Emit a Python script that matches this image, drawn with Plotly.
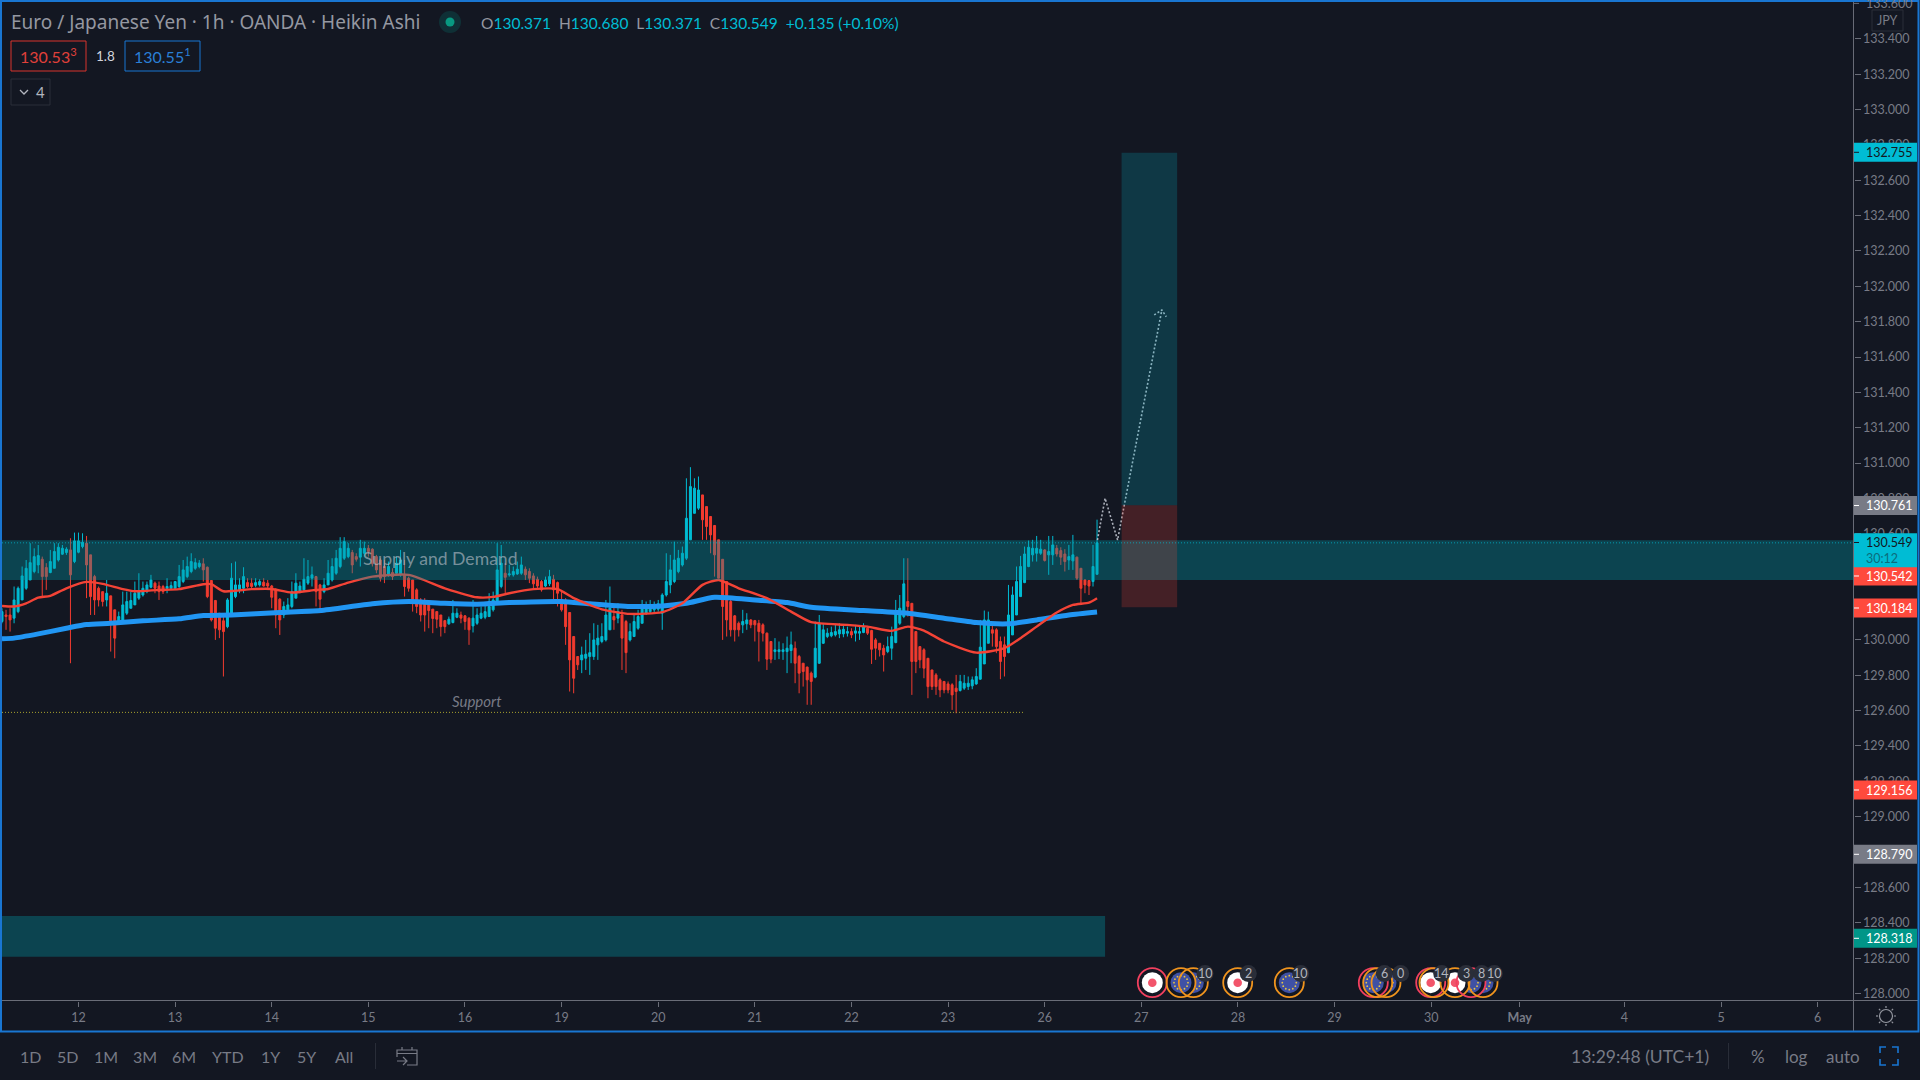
import plotly.graph_objects as go
import numpy as np

# ---------- chart values ----------
body_top = [
130.160,130.141,130.141,130.226,130.292,130.362,130.405,130.437,130.471,130.477,
130.456,130.409,130.443,130.500,130.524,130.518,130.513,130.509,130.560,130.560,
130.552,130.547,130.481,130.358,130.292,130.273,130.264,130.249,130.170,130.132,
130.198,130.217,130.223,130.264,130.273,130.292,130.311,130.339,130.321,130.305,
130.302,130.302,130.307,130.330,130.358,130.396,130.415,130.443,130.437,130.434,
130.430,130.411,130.336,130.223,130.151,130.108,130.226,130.349,130.311,130.311,
130.358,130.324,130.321,130.324,130.330,130.326,130.321,130.305,130.283,130.230,
130.189,130.198,130.273,130.321,130.305,130.343,130.358,130.368,130.358,130.311,
130.311,130.377,130.415,130.462,130.518,130.556,130.518,130.494,130.471,130.518,
130.518,130.518,130.513,130.471,130.452,130.415,130.415,130.381,130.434,130.452,
130.368,130.349,130.339,130.283,130.226,130.217,130.217,130.174,130.160,130.141,
130.109,130.117,130.151,130.151,130.141,130.136,130.123,130.123,130.141,130.151,
130.160,130.189,130.226,130.396,130.434,130.377,130.373,130.387,130.400,130.424,
130.400,130.387,130.362,130.343,130.330,130.339,130.358,130.343,130.324,130.226,
130.226,130.155,130.019,129.906,129.915,129.919,129.928,130.000,130.010,130.019,
130.141,130.179,130.132,130.160,130.141,130.104,130.047,130.104,130.132,130.198,
130.198,130.198,130.198,130.204,130.254,130.330,130.396,130.452,130.462,130.490,
130.688,130.867,130.858,130.848,130.820,130.754,130.698,130.647,130.566,130.456,
130.330,130.217,130.136,130.094,130.104,130.113,130.113,130.109,130.094,130.085,
130.038,129.991,129.944,129.944,129.944,129.953,129.972,129.953,129.906,129.868,
129.846,129.812,129.953,130.094,130.057,130.038,130.042,130.047,130.057,130.060,
130.047,130.047,130.051,130.047,130.075,130.066,130.053,130.000,129.981,129.953,
129.962,130.019,130.160,130.179,130.317,130.217,130.207,130.047,129.962,129.944,
129.896,129.830,129.802,129.774,129.765,129.751,129.746,129.727,129.765,129.755,
129.755,129.774,129.793,129.959,130.113,130.113,130.057,130.057,129.991,129.972,
130.141,130.254,130.330,130.415,130.486,130.524,130.518,130.518,130.513,130.509,
130.500,130.537,130.518,130.505,130.486,130.471,130.481,130.468,130.405,130.339,
130.336,130.415,130.549]

body_bottom = [
130.104,130.132,130.113,130.123,130.160,130.226,130.292,130.339,130.387,130.424,
130.358,130.358,130.381,130.405,130.452,130.485,130.494,130.368,130.443,130.496,
130.528,130.424,130.245,130.226,130.226,130.217,130.226,130.094,130.010,130.104,
130.104,130.151,130.179,130.198,130.236,130.254,130.273,130.298,130.292,130.273,
130.273,130.292,130.292,130.292,130.302,130.330,130.358,130.387,130.405,130.415,
130.396,130.245,130.113,130.066,130.057,130.047,130.075,130.151,130.245,130.283,
130.292,130.302,130.302,130.309,130.311,130.305,130.305,130.241,130.141,130.113,
130.141,130.170,130.189,130.236,130.273,130.283,130.321,130.349,130.273,130.230,
130.273,130.311,130.339,130.377,130.415,130.462,130.471,130.424,130.456,130.468,
130.490,130.500,130.430,130.396,130.349,130.358,130.368,130.358,130.377,130.368,
130.302,130.292,130.207,130.189,130.141,130.141,130.166,130.121,130.117,130.075,
130.075,130.091,130.098,130.128,130.123,130.104,130.057,130.079,130.094,130.123,
130.128,130.132,130.170,130.217,130.302,130.354,130.368,130.368,130.373,130.377,
130.368,130.349,130.317,130.305,130.283,130.305,130.317,130.283,130.264,130.170,
130.075,129.887,129.783,129.859,129.887,129.896,129.906,129.906,129.972,129.991,
130.000,130.057,130.113,130.123,130.010,129.928,130.000,130.019,130.066,130.094,
130.151,130.160,130.170,130.174,130.151,130.254,130.311,130.330,130.387,130.424,
130.462,130.566,130.716,130.745,130.679,130.641,130.594,130.481,130.349,130.189,
130.113,130.057,130.057,130.057,130.085,130.091,130.085,130.085,130.047,130.038,
129.891,129.891,129.934,129.934,129.934,129.934,129.940,129.868,129.812,129.821,
129.774,129.765,129.789,129.868,129.981,130.019,130.023,130.028,130.034,130.034,
130.038,130.028,130.038,130.038,130.042,130.038,129.947,129.953,129.944,129.915,
129.934,129.953,129.985,130.094,130.132,130.189,129.878,129.878,129.887,129.840,
129.736,129.736,129.736,129.717,129.717,129.717,129.689,129.708,129.714,129.727,
129.736,129.740,129.751,129.778,129.864,129.981,130.038,129.962,129.878,129.906,
129.928,130.028,130.141,130.245,130.324,130.415,130.481,130.490,130.490,130.449,
130.481,130.481,130.486,130.468,130.443,130.452,130.447,130.349,130.292,130.311,
130.305,130.330,130.371]

wick_high = [
130.179,130.170,130.179,130.302,130.302,130.415,130.452,130.547,130.518,130.537,
130.471,130.434,130.509,130.547,130.547,130.537,130.524,130.575,130.607,130.607,
130.603,130.588,130.481,130.368,130.302,130.273,130.339,130.249,130.170,130.160,
130.273,130.273,130.273,130.330,130.377,130.330,130.330,130.368,130.330,130.330,
130.311,130.349,130.330,130.330,130.424,130.452,130.471,130.490,130.462,130.452,
130.462,130.415,130.336,130.226,130.151,130.151,130.236,130.434,130.443,130.349,
130.411,130.349,130.349,130.349,130.343,130.349,130.339,130.311,130.292,130.236,
130.217,130.236,130.330,130.377,130.330,130.462,130.452,130.415,130.362,130.317,
130.349,130.452,130.462,130.509,130.581,130.581,130.547,130.509,130.490,130.566,
130.556,130.537,130.518,130.481,130.462,130.452,130.443,130.405,130.471,130.509,
130.452,130.358,130.339,130.292,130.236,130.236,130.217,130.174,130.160,130.141,
130.113,130.132,130.226,130.179,130.160,130.141,130.128,130.226,130.179,130.189,
130.207,130.264,130.273,130.547,130.537,130.434,130.424,130.415,130.443,130.471,
130.415,130.405,130.377,130.358,130.339,130.358,130.396,130.368,130.330,130.283,
130.236,130.155,130.019,129.906,129.962,130.000,130.038,130.094,130.085,130.094,
130.226,130.302,130.189,130.207,130.170,130.113,130.094,130.141,130.170,130.226,
130.217,130.226,130.217,130.226,130.264,130.490,130.481,130.556,130.509,130.528,
130.914,130.977,130.914,130.924,130.820,130.754,130.698,130.650,130.566,130.456,
130.330,130.226,130.141,130.104,130.170,130.151,130.117,130.113,130.113,130.094,
130.042,129.991,130.010,129.991,129.981,130.019,130.047,129.991,129.915,129.868,
129.849,129.821,130.104,130.141,130.094,130.066,130.075,130.085,130.094,130.085,
130.075,130.066,130.085,130.075,130.094,130.079,130.057,130.010,129.981,129.972,
130.019,130.075,130.226,130.254,130.462,130.462,130.207,130.047,129.962,129.953,
129.896,129.830,129.812,129.783,129.765,129.765,129.755,129.802,129.802,129.802,
129.793,129.793,129.840,130.113,130.166,130.160,130.094,130.066,130.019,130.019,
130.311,130.302,130.415,130.475,130.528,130.562,130.566,130.588,130.566,130.513,
130.588,130.588,130.537,130.524,130.513,130.537,130.594,130.471,130.405,130.343,
130.339,130.537,130.680]

wick_low = [
130.094,130.057,130.047,130.094,130.151,130.226,130.283,130.339,130.377,130.377,
130.245,130.283,130.377,130.405,130.443,130.481,130.481,129.868,130.434,130.490,
130.518,130.236,130.141,130.141,130.189,130.189,130.189,129.934,129.896,130.094,
130.094,130.141,130.179,130.198,130.226,130.245,130.264,130.292,130.264,130.226,
130.260,130.264,130.283,130.283,130.292,130.321,130.349,130.377,130.396,130.405,
130.330,130.236,130.104,130.000,130.010,129.793,130.066,130.141,130.236,130.264,
130.264,130.292,130.292,130.298,130.302,130.302,130.292,130.179,130.066,130.028,
130.123,130.160,130.179,130.236,130.264,130.273,130.311,130.302,130.189,130.151,
130.264,130.311,130.330,130.368,130.405,130.452,130.462,130.377,130.443,130.415,
130.471,130.471,130.415,130.377,130.330,130.321,130.358,130.339,130.368,130.358,
130.245,130.273,130.160,130.151,130.104,130.047,130.066,130.038,130.066,130.019,
130.038,130.085,130.094,130.123,130.094,130.057,129.972,130.042,130.085,130.117,
130.117,130.132,130.160,130.207,130.292,130.264,130.358,130.358,130.368,130.368,
130.339,130.321,130.292,130.292,130.273,130.298,130.305,130.207,130.189,130.160,
129.972,129.708,129.698,129.830,129.812,129.830,129.802,129.887,129.887,129.981,
129.991,130.057,130.057,130.094,129.830,129.812,129.991,130.019,130.057,130.094,
130.141,130.151,130.151,130.160,130.057,130.245,130.264,130.321,130.377,130.415,
130.452,130.566,130.716,130.735,130.566,130.566,130.490,130.358,130.349,130.000,
130.019,130.019,129.991,130.019,130.038,130.057,130.066,129.991,129.878,129.991,
129.830,129.868,129.887,129.891,129.887,129.812,129.868,129.755,129.698,129.736,
129.633,129.633,129.783,129.864,129.977,130.010,130.015,130.019,130.010,130.015,
130.019,130.010,129.991,130.000,130.038,130.028,129.864,129.887,129.906,129.821,
129.925,129.887,129.981,130.085,130.123,130.132,129.689,129.812,129.840,129.783,
129.670,129.717,129.689,129.676,129.698,129.698,129.604,129.585,129.708,129.717,
129.717,129.721,129.746,129.774,129.864,129.981,129.962,129.925,129.778,129.793,
129.925,130.028,130.141,130.245,130.321,130.411,130.443,130.443,130.481,130.443,
130.368,130.424,130.471,130.424,130.387,130.396,130.396,130.339,130.207,130.264,
130.254,130.302,130.371]

direction = ("U DD UUUUUUU DD UUUUU D UUU DDDDD U DD UUUUUUUUU DDD UUUUUUUUU DDDDDD UUUUU DD UU "
             "DDDDD UUUUUUUU DD UUUUUUU DD UU DDDDD U D UU DDDDDDDDDDD UUU DDD UUUUUUUU D UUUU "
             "DDDDD UU DDDDDDD UUUUUUUU D U DD UUUUUUUUUUUUUUUUUU DDDDDDDDDD UU DDDDDD UUUUU "
             "DDDDD UUUUUUUUU D UUU DDDDD UUUUU DDDDDDDDDDDDD UUUUUUUU DDDD UUUUUUUUU D UU DDD "
             "UU DDDD UU").replace(" ", "")

ma_red_bar = [0,3,6,9,12,16,21,25,30,33,39,44,50,52,55,62,67,72,78,81,86,92,101,110,118,122,126,132,138,
              142,149,156,164,169,174,178,183,190,196,201,210,215,221,225,229,234,242,249,253,257,262,266,270,272]
ma_red = [130.192,130.189,130.207,130.239,130.249,130.292,130.328,130.317,130.287,130.275,130.283,130.287,
          130.315,130.315,130.275,130.287,130.288,130.268,130.283,130.288,130.324,130.358,130.368,130.292,
          130.241,130.243,130.264,130.287,130.287,130.236,130.173,130.147,130.157,130.207,130.311,130.339,
          130.292,130.236,130.160,130.100,130.085,130.075,130.051,130.075,130.053,129.991,129.928,129.953,
          130.010,130.075,130.155,130.198,130.211,130.236]
ma_blue_bar = [0,3,9,16,21,27,35,44,50,57,69,79,92,101,110,118,126,139,146,156,164,170,177,187,195,201,214,
               225,234,242,250,257,265,272]
ma_blue = [130.006,130.010,130.034,130.066,130.087,130.094,130.108,130.119,130.138,130.141,130.155,130.166,
           130.204,130.217,130.207,130.202,130.211,130.217,130.204,130.189,130.192,130.207,130.241,130.226,
           130.211,130.185,130.166,130.151,130.123,130.098,130.091,130.113,130.141,130.158]

date_tick_bars = [19,43,67,91,115,139,163,187,211,235,259,283,307,331,355,377,403,427,451]
date_tick_labels = ["12","13","14","15","16","19","20","21","22","23","26","27","28","29","30","<b>May</b>","4","5","6"]
price_ticks = [128.0,128.2,128.4,128.6,128.8,129.0,129.2,129.4,129.6,129.8,130.0,130.2,130.4,130.6,130.8,
               131.0,131.2,131.4,131.6,131.8,132.0,132.2,132.4,132.6,132.8,133.0,133.2,133.4]
top_price_tick = "133.600"

zone_prices = [130.339, 130.563]
last_price = 130.549
lower_zone_prices = [128.208, 128.438]
lower_zone_end_bar = 274.0
profit_prices = [130.761, 132.755]
stop_prices = [130.184, 130.761]
box_bars = [278.1, 291.9]
support_price = 129.590
support_end_bar = 254.0
path_bars = [272.1, 274.0, 277.1, 288.1]
path_prices = [130.565, 130.801, 130.565, 131.866]
arrow_bars = [286.2, 288.1, 289.2]
arrow_prices = [131.838, 131.866, 131.828]

label_text = ["132.755","130.761","130.542","130.184","129.156","128.790","128.318"]
label_fill = ["#00BCD4","#787B86","#FF4A3D","#FF4A3D","#FF4A3D","#787B86","#009688"]
label_ink = ["#131722","#FFFFFF","#FFFFFF","#FFFFFF","#FFFFFF","#FFFFFF","#FFFFFF"]
label_center_y = [152.3,505.5,576,608,790,854.3,938.3]

range_buttons = ["1D","5D","1M","3M","6M","YTD","1Y","5Y","All"]
range_button_x = [30.7,67.7,106,145,184,228,270,306.7,344]

# ---------- derived ----------
top = np.array(body_top); bot = np.array(body_bottom)
up = np.array([c == "U" for c in direction])
n = min(len(top), len(up))
top, bot, up = top[:n], bot[:n], up[:n]
open_p = np.where(up, bot, top)
close_p = np.where(up, top, bot)
bars = np.arange(n)

BG = "#131722"; GREY = "#787B86"; CYAN = "#00BCD4"; RED = "#F23B2F"; BLUE = "#1976D2"
FONT = "Lato, 'Noto Sans', sans-serif"
FONT2 = "'Noto Sans', Lato, sans-serif"

X = lambda x: x / 1920
Y = lambda y: 1 - y / 1080
P = lambda x, y: f"{X(x):.5f},{Y(y):.5f}"

shapes = []; ann = []

def rect(x0, y0, x1, y1, fill="rgba(0,0,0,0)", line=None, w=1):
    shapes.append(dict(type="rect", xref="paper", yref="paper", x0=X(x0), x1=X(x1), y0=Y(y0), y1=Y(y1),
                       fillcolor=fill, line=dict(color=line or "rgba(0,0,0,0)", width=w if line else 0)))

def circ(cx, cy, r, fill="rgba(0,0,0,0)", line=None, w=1):
    shapes.append(dict(type="circle", xref="paper", yref="paper", x0=X(cx-r), x1=X(cx+r), y0=Y(cy+r), y1=Y(cy-r),
                       fillcolor=fill, line=dict(color=line or "rgba(0,0,0,0)", width=w if line else 0)))

def poly(pts_list, color, w=1.5):
    d = ""
    for pts in pts_list:
        d += "M" + " L".join(P(*p) for p in pts) + " "
    shapes.append(dict(type="path", xref="paper", yref="paper", path=d.strip(), line=dict(color=color, width=w)))

def txt(x, y, s, size=12, color=GREY, anchor="left", font=FONT):
    ann.append(dict(xref="paper", yref="paper", x=X(x), y=Y(y), text=s, showarrow=False, xanchor=anchor,
                    yanchor="middle", borderpad=0, borderwidth=0,
                    font=dict(size=size, color=color, family=font)))

# zones and position boxes (all above the candles)
shapes.append(dict(type="rect", xref="x", yref="y", x0=0, x1=460, y0=zone_prices[0], y1=zone_prices[1],
                   fillcolor="rgba(0,151,167,0.35)", line=dict(width=0)))
shapes.append(dict(type="rect", xref="x", yref="y", x0=0, x1=lower_zone_end_bar, y0=lower_zone_prices[0],
                   y1=lower_zone_prices[1], fillcolor="rgba(0,151,167,0.35)", line=dict(width=0)))
shapes.append(dict(type="rect", xref="x", yref="y", x0=box_bars[0], x1=box_bars[1], y0=profit_prices[0],
                   y1=profit_prices[1], fillcolor="rgba(0,188,212,0.2)", line=dict(width=0)))
shapes.append(dict(type="rect", xref="x", yref="y", x0=box_bars[0], x1=box_bars[1], y0=stop_prices[0],
                   y1=stop_prices[1], fillcolor="rgba(244,67,54,0.22)", line=dict(width=0)))
shapes.append(dict(type="line", xref="x", yref="y", x0=0, x1=460, y0=last_price, y1=last_price,
                   line=dict(color="rgba(0,188,212,0.7)", width=1, dash="1px,2px")))
shapes.append(dict(type="line", xref="x", yref="y", x0=0, x1=support_end_bar, y0=support_price, y1=support_price,
                   line=dict(color="#A8A22E", width=1, dash="1px,2px")))

# chart frame
poly([[(1853.5, 0), (1853.5, 1032)]], "#6A6D78", 1)
poly([[(0, 1000.5), (1918, 1000.5)]], "#6A6D78", 1)

# event icons: earlier icons sit on top of later ones, every ring stays visible
ORANGE = "#F0941E"; PINK = "#F2405F"
icons = [("jp",1152.3,PINK),("eu",1181,ORANGE),("eu",1193.3,ORANGE),("jp",1237.7,ORANGE),("eu",1289.3,ORANGE),
         ("eu",1373.3,PINK),("eu",1377.7,ORANGE),("eu",1386,ORANGE),("jp",1430.7,PINK),("jp",1434,ORANGE),
         ("jp",1455,ORANGE),("eu",1471,PINK),("eu",1483,ORANGE)]
badges = [(1205,"10"),(1248.3,"2"),(1300.7,"10"),(1384.3,"6"),(1400.7,"0"),(1441.7,"14"),(1466,"3"),
          (1481.7,"8"),(1494.3,"10")]
ICON_Y = 982.7
for kind, cx, ring in reversed(icons):
    circ(cx, ICON_Y, 14.5, fill=BG)
    if kind == "jp":
        circ(cx, ICON_Y, 10.5, fill="#FFFFFF")
        circ(cx, ICON_Y, 4.3, fill="#F2556B")
    else:
        circ(cx, ICON_Y, 10.5, fill="#3F51A5")
        for a in np.arange(12) * np.pi / 6:
            circ(cx + 7 * np.cos(a), ICON_Y + 7 * np.sin(a), 0.9, fill="#E8C547")
for kind, cx, ring in icons:
    circ(cx, ICON_Y, 14.5, line=ring, w=1.8)
for cx, s in badges:
    circ(cx, 973.5, 8.5, fill="#2A2E39")
    txt(cx, 973.5, s, 12.5, "#B2B5BE", "center")

# price labels over the axis
for s, f, ink, cy in zip(label_text, label_fill, label_ink, label_center_y):
    rect(1854, cy - 9.5, 1917, cy + 9.5, fill=f)
    poly([[(1854, cy), (1859, cy)]], ink, 1)
    txt(1866, cy, s, 12.5, ink)
rect(1854, 533.3, 1917, 567.3, fill=CYAN)
poly([[(1854, 542.5), (1859, 542.5)]], BG, 1)
txt(1866, 542.7, "130.549", 12.5, BG)
txt(1866, 558.3, "30:12", 12.5, "#0B6C7C")

# partly hidden topmost tick label
poly([[(1854, 3.4), (1859, 3.4)]], "#6A6D78", 1)
txt(1866, 3.4, top_price_tick, 12.5, GREY)

# JPY tag
shapes.append(dict(type="rect", xref="paper", yref="paper", x0=X(1872), x1=X(1903), y0=Y(31), y1=Y(10),
                   fillcolor=BG, line=dict(color="#2A2E39", width=1)))
txt(1887.5, 20.5, "JPY", 12.5, GREY, "center")

# outer blue frame
rect(1, 1, 1918.5, 1031.5, line=BLUE, w=2)

# legend header
txt(11, 22, "Euro / Japanese Yen · 1h · OANDA · Heikin Ashi", 19, "#9598A1", font=FONT2)
circ(450, 22, 11, fill="rgba(0,150,136,0.2)")
circ(450, 22, 4.5, fill="#089981")
o = '<span style="color:#9598A1">%s</span>'
c = '<span style="color:#00BCD4">%s</span>'
txt(481, 23, (o % "O") + (c % "130.371 ") + (o % " H") + (c % "130.680 ") + (o % " L") + (c % "130.371 ") +
    (o % " C") + (c % "130.549  +0.135 (+0.10%)"), 15.5, CYAN)
shapes.append(dict(type="rect", xref="paper", yref="paper", x0=X(11), x1=X(86), y0=Y(71), y1=Y(41),
                   fillcolor=BG, line=dict(color="#D8342C", width=1)))
txt(48.5, 56, "130.53<sup>3</sup>", 16, "#E0403A", "center")
txt(105.5, 56, "1.8", 13.5, "#D1D4DC", "center")
shapes.append(dict(type="rect", xref="paper", yref="paper", x0=X(125), x1=X(200), y0=Y(71), y1=Y(41),
                   fillcolor=BG, line=dict(color=BLUE, width=1)))
txt(162.5, 56, "130.55<sup>1</sup>", 16, "#2A7FD6", "center")
shapes.append(dict(type="rect", xref="paper", yref="paper", x0=X(11), x1=X(50), y0=Y(105), y1=Y(79),
                   fillcolor=BG, line=dict(color="#2A2E39", width=1)))
poly([[(20, 90), (24, 94), (28, 90)]], "#B2B5BE", 1.3)
txt(40.8, 92, "4", 15, "#B2B5BE", "center")

# bottom toolbar
for s, x in zip(range_buttons, range_button_x):
    txt(x, 1056, s, 16, GREY, "center")
poly([[(375.5, 1043), (375.5, 1069)]], "#2A2E39", 1)
poly([[(397, 1057), (397, 1050), (417, 1050), (417, 1065), (407, 1065)],
      [(397, 1053.5), (417, 1053.5)],
      [(402, 1047), (402, 1050)], [(412, 1047), (412, 1050)],
      [(397, 1061), (407, 1061)], [(403, 1057), (407, 1061), (403, 1065)]], GREY, 1.2)
txt(1639.5, 1056, "13:29:48 (UTC+1)", 17.5, GREY, "center")
poly([[(1728.5, 1043), (1728.5, 1069)]], "#2A2E39", 1)
txt(1758, 1056, "%", 17, GREY, "center")
txt(1796, 1056, "log", 17, GREY, "center")
txt(1842.7, 1056, "auto", 17, GREY, "center")
poly([[(1880, 1053), (1880, 1047), (1886, 1047)], [(1892, 1047), (1898, 1047), (1898, 1053)],
      [(1898, 1059), (1898, 1065), (1892, 1065)], [(1886, 1065), (1880, 1065), (1880, 1059)]], BLUE, 1.6)

# settings gear
circ(1886, 1016, 6.5, line="#9598A1", w=1.2)
for a in np.arange(8) * np.pi / 4:
    poly([[(1886 + 8 * np.cos(a), 1016 + 8 * np.sin(a)), (1886 + 10 * np.cos(a), 1016 + 10 * np.sin(a))]], "#9598A1", 1.2)

# drawing labels tied to chart coordinates
ann.append(dict(xref="x", yref="y", x=108.8, y=130.463, text="Supply and Demand", showarrow=False,
                font=dict(size=17.6, color="rgba(190,195,205,0.62)", family=FONT)))
ann.append(dict(xref="x", yref="y", x=118, y=129.654, text="<i>Support</i>", showarrow=False,
                font=dict(size=15, color="#787B86", family=FONT)))

fig = go.Figure()
fig.add_trace(go.Candlestick(x=bars, open=open_p, high=np.array(wick_high)[:n], low=np.array(wick_low)[:n],
                             close=close_p, whiskerwidth=0, hoverinfo="skip",
                             increasing=dict(line=dict(color=CYAN, width=1), fillcolor=CYAN),
                             decreasing=dict(line=dict(color=RED, width=1), fillcolor=RED)))
fig.add_trace(go.Scatter(x=ma_blue_bar, y=ma_blue, mode="lines", hoverinfo="skip",
                         line=dict(color="#2196F3", width=5, shape="spline", smoothing=0.6)))
fig.add_trace(go.Scatter(x=ma_red_bar, y=ma_red, mode="lines", hoverinfo="skip",
                         line=dict(color="#F44336", width=2.4, shape="spline", smoothing=0.6)))
fig.add_trace(go.Scatter(x=path_bars, y=path_prices, mode="lines", hoverinfo="skip",
                         line=dict(color="rgba(200,205,215,0.85)", width=1.6, dash="2px,2px")))
fig.add_trace(go.Scatter(x=arrow_bars, y=arrow_prices, mode="lines", hoverinfo="skip",
                         line=dict(color="rgba(200,205,215,0.85)", width=1.6, dash="2px,2px")))

axis_font = dict(size=12.5, color=GREY, family=FONT)
fig.update_layout(
    width=1920, height=1080, autosize=False,
    margin=dict(l=0, r=0, t=0, b=0, pad=0),
    paper_bgcolor=BG, plot_bgcolor=BG,
    showlegend=False, hovermode=False, dragmode=False,
    shapes=shapes, annotations=ann,
    xaxis=dict(domain=[X(2), X(1853.5)], range=[0, 459.9], rangeslider=dict(visible=False), showgrid=False,
               zeroline=False, tickmode="array", tickvals=date_tick_bars, ticktext=date_tick_labels,
               ticks="outside", ticklen=5, tickcolor="#6A6D78", tickwidth=1, showline=False,
               tickfont=axis_font, fixedrange=True, anchor="y"),
    yaxis=dict(domain=[Y(1000.5), Y(2)], range=[127.9604, 133.608], side="right", showgrid=False, zeroline=False,
               tickmode="array", tickvals=price_ticks, ticktext=[f"{v:.3f}" for v in price_ticks],
               ticks="outside", ticklen=6, tickcolor="#6A6D78", tickwidth=1, showline=False,
               tickfont=axis_font, fixedrange=True, anchor="x"),
)

fig.write_html("out.html", config=dict(displayModeBar=False, staticPlot=True),
               post_script="document.body.style.margin='0';document.body.style.overflow='hidden';")
